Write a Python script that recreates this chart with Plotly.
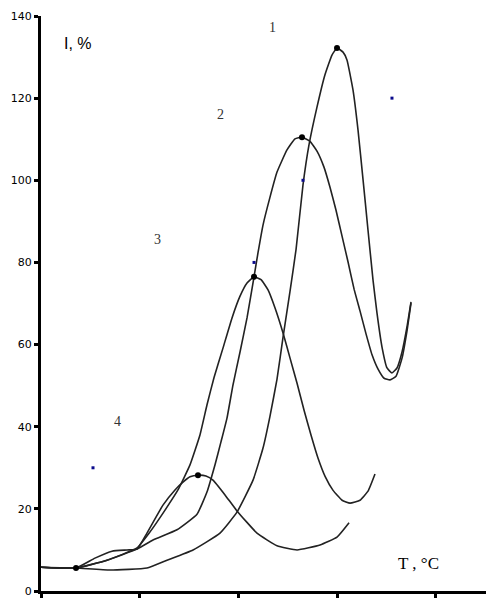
import plotly.graph_objects as go

# ---- data (x in arbitrary temperature units, ticks unlabeled; y = I, %) ----
c1_x = [0, 35.5, 69.9, 107.4, 127.7, 154.1, 181.4, 198.6, 214.9, 225.0, 232.1, 239.2, 245.3, 252.4,
        258.5, 265.5, 271.6, 279.7, 287.8, 294.9, 300.0, 306.1, 310.1, 316.2, 321.3, 326.4, 331.4,
        336.5, 340.5, 345.6, 350.7, 355.7, 360.8, 365.9, 370.9, 375.0]
c1_y = [5.8, 5.6, 5.1, 5.6, 7.5, 10.0, 14.1, 19.2, 27.0, 34.8, 42.6, 51.6, 61.8, 73.0,
        83.2, 98.8, 108.6, 117.8, 125.7, 130.5, 132.2, 131.2, 129.3, 122.0, 112.2, 100.1, 87.9,
        75.7, 67.7, 59.4, 54.3, 53.1, 54.3, 58.2, 64.3, 70.4]

c2_x = [0, 35.5, 66.9, 97.3, 113.5, 137.8, 158.1, 168.2, 176.3, 182.4, 188.5, 194.6, 201.7, 208.8,
        215.9, 219.9, 225.0, 232.1, 239.2, 249.3, 257.4, 264.5, 272.6, 279.7, 286.8, 292.9, 299.0,
        305.1, 311.2, 317.3, 323.3, 329.4, 335.5, 341.6, 347.7, 353.7, 359.8, 365.9, 370.9, 375.0]
c2_y = [5.8, 5.6, 7.5, 10.2, 12.4, 14.9, 18.7, 24.1, 30.7, 36.3, 42.1, 50.2, 58.2, 66.5,
        76.5, 82.3, 89.1, 95.9, 102.0, 107.4, 110.1, 110.5, 109.5, 107.1, 103.2, 98.3, 92.7,
        86.4, 80.1, 73.5, 68.2, 62.6, 57.5, 54.0, 51.8, 51.4, 52.3, 56.7, 63.3, 70.1]

c3_x = [0, 35.5, 66.9, 97.3, 110.5, 125.7, 138.8, 151.0, 161.1, 168.2, 175.3, 184.5, 193.6, 201.7,
        208.8, 215.9, 223.0, 230.1, 237.2, 245.3, 252.4, 259.5, 266.6, 273.7, 280.8, 287.9, 296.0,
        305.1, 313.2, 323.3, 331.4, 338.5]
c3_y = [5.8, 5.6, 7.5, 10.5, 14.4, 19.7, 24.6, 30.7, 38.0, 45.3, 51.9, 59.2, 66.5, 71.8,
        75.0, 76.5, 75.8, 73.3, 68.9, 62.8, 56.7, 50.6, 44.0, 37.9, 32.3, 27.9, 24.5,
        22.1, 21.4, 22.1, 24.3, 28.5]

c4_x = [0, 35.5, 54.7, 72.0, 87.2, 97.3, 107.4, 123.6, 135.8, 143.9, 151.0, 159.1, 167.2, 174.3,
        186.5, 198.6, 218.9, 239.2, 259.5, 282.8, 300.0, 312.2]
c4_y = [5.8, 5.6, 8.0, 9.7, 10.0, 10.2, 14.1, 20.9, 24.6, 26.5, 27.8, 28.2, 28.0, 27.0,
        23.4, 19.5, 14.1, 11.0, 10.0, 11.2, 13.1, 16.6]

peak_x = [35.5, 300.0, 264.5, 215.9, 159.1]
peak_y = [5.6, 132.2, 110.5, 76.5, 28.2]

blue_x = [52.7, 215.9, 265.5, 355.7]
blue_y = [30, 80, 100, 120]

curve_labels = ["1", "2", "3", "4"]
label_x = [235.1, 182.4, 117.6, 78.0]
label_y = [137.3, 116.1, 85.5, 41.2]

y_ticks = [0, 20, 40, 60, 80, 100, 120, 140]
x_ticks = [0, 100, 200, 300, 400]

fig = go.Figure()
line_style = dict(color="#222222", width=1.6, shape="spline", smoothing=0.4)
for xs, ys in [(c1_x, c1_y), (c2_x, c2_y), (c3_x, c3_y), (c4_x, c4_y)]:
    fig.add_trace(go.Scatter(x=xs, y=ys, mode="lines", line=line_style,
                             hoverinfo="skip", showlegend=False))

fig.add_trace(go.Scatter(x=peak_x, y=peak_y, mode="markers",
                         marker=dict(color="black", size=6), showlegend=False))
fig.add_trace(go.Scatter(x=blue_x, y=blue_y, mode="markers",
                         marker=dict(color="#0a0a8c", size=3, symbol="square"),
                         showlegend=False))

for t, x, y in zip(curve_labels, label_x, label_y):
    fig.add_annotation(x=x, y=y, text=t, showarrow=False,
                       font=dict(family="Liberation Serif", size=14, color="#333333"))

fig.add_annotation(x=37.5, y=133.4, text="I, %", showarrow=False,
                   font=dict(family="Liberation Sans", size=16, color="black"))
fig.add_annotation(x=383, y=6.6, text="T , \u00b0C", showarrow=False,
                   font=dict(family="Liberation Serif", size=17, color="black"))

fig.update_layout(
    width=486, height=598,
    margin=dict(l=41, r=0, t=16, b=7),
    paper_bgcolor="white", plot_bgcolor="white",
    xaxis=dict(range=[0, 451], tickvals=x_ticks, showticklabels=False,
               ticks="outside", ticklen=4, tickwidth=3, tickcolor="black",
               showline=True, linewidth=3, linecolor="black",
               showgrid=False, zeroline=False),
    yaxis=dict(range=[0, 140], tickvals=y_ticks, ticks="outside", ticklen=4,
               tickwidth=3, tickcolor="black", showline=True, linewidth=3,
               linecolor="black", showgrid=False, zeroline=False,
               tickfont=dict(family="DejaVu Sans", size=11, color="black")),
)

fig.write_html("out.html")
